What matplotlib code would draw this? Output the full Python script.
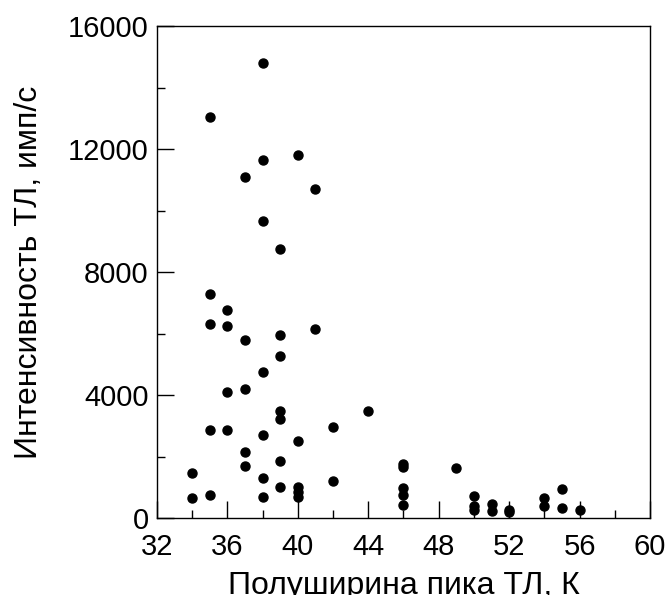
import numpy as np
import matplotlib
matplotlib.use('Agg')
import matplotlib.pyplot as plt
from matplotlib.ticker import MultipleLocator

plt.rcParams['font.family'] = ['Liberation Sans', 'DejaVu Sans']

# half-width of TL peak, K
width_k = [38, 35, 38, 40, 37, 41, 38, 39, 35, 36,
           35, 36, 37, 39, 41, 39, 38, 36, 37, 39,
           39, 44, 35, 36, 38, 40, 42, 37, 39, 37,
           46, 46, 34, 38, 42, 39, 40, 40, 40, 46,
           46, 46, 34, 35, 38, 49, 50, 50, 50, 51,
           51, 52, 52, 54, 54, 55, 55, 56]
# TL intensity, counts/s
intensity = [14800, 13050, 11650, 11800, 11100, 10700, 9650, 8750, 7270, 6770,
             6300, 6240, 5780, 5950, 6150, 5260, 4750, 4100, 4180, 3490,
             3210, 3480, 2850, 2850, 2700, 2520, 2950, 2145, 1860, 1700,
             1750, 1650, 1460, 1310, 1200, 1000, 1000, 860, 690, 975,
             760, 420, 640, 760, 690, 1640, 715, 390, 260, 455,
             230, 260, 190, 660, 390, 930, 335, 260]

fig = plt.figure(figsize=(6.7, 5.95), dpi=100)
ax = fig.add_axes([0.2343, 0.1294, 0.7358, 0.8269])

ax.plot(width_k, intensity, 'o', color='black', markersize=6.5, linestyle='none', clip_on=False)

ax.set_xlim(32, 60)
ax.set_ylim(0, 16000)
ax.xaxis.set_major_locator(MultipleLocator(4))
ax.xaxis.set_minor_locator(MultipleLocator(2))
ax.yaxis.set_major_locator(MultipleLocator(4000))
ax.yaxis.set_minor_locator(MultipleLocator(2000))

ax.tick_params(which='both', direction='in', top=False, right=False, width=1, labelsize=21)
ax.tick_params(which='major', length=12)
ax.tick_params(which='minor', length=6)
ax.tick_params(axis='y', pad=6)
ax.tick_params(axis='x', pad=11)
for sp in ax.spines.values():
    sp.set_linewidth(1)

ax.set_xlabel('Полуширина пика ТЛ, К', fontsize=23)
ax.xaxis.set_label_coords(0.5, -0.108)
ax.set_ylabel('Интенсивность ТЛ, имп/с', fontsize=23)
ax.yaxis.set_label_coords(-0.229, 0.5)

fig.savefig('out.png', dpi=100)
